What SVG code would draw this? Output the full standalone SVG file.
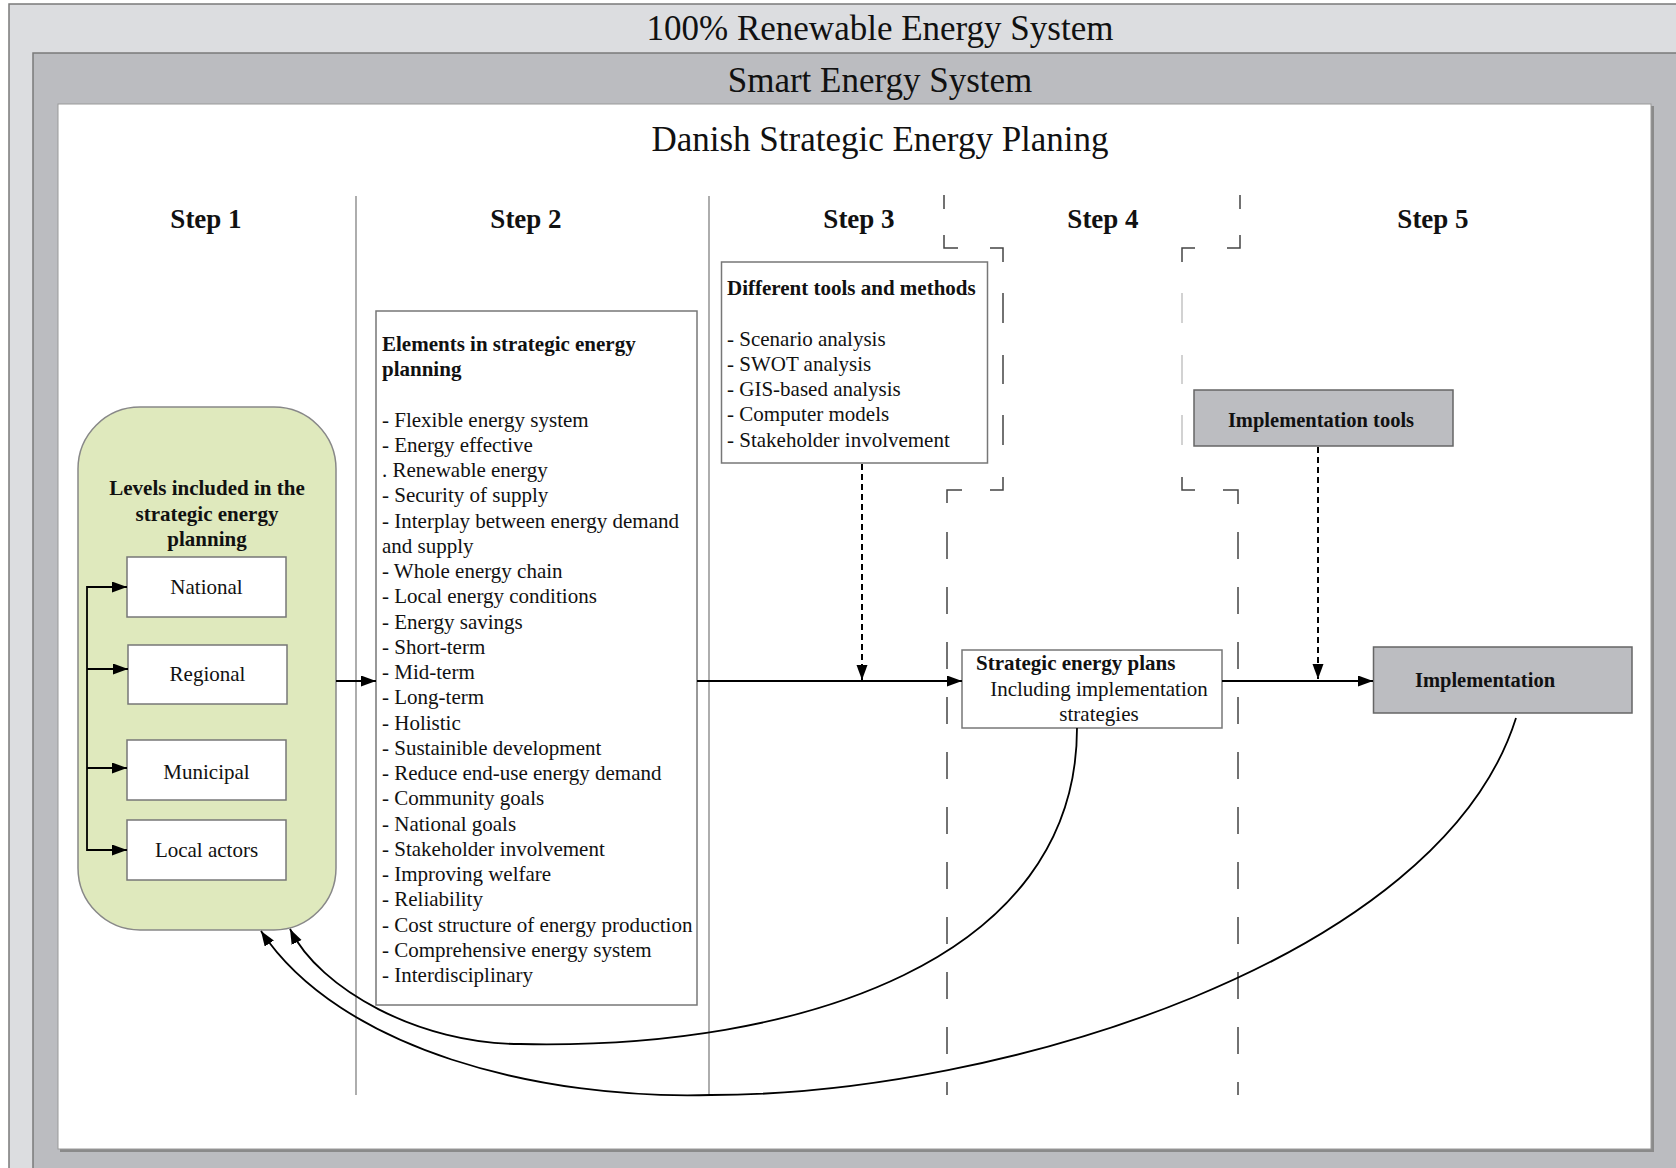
<svg xmlns="http://www.w3.org/2000/svg" width="1676" height="1168" viewBox="0 0 1676 1168">
<style>
text{font-family:"Liberation Serif","Times New Roman",serif;fill:#111}
.title{font-size:35px;text-anchor:middle}
.step{font-size:27px;font-weight:bold;text-anchor:middle}
.t{font-size:21px}
.b{font-size:21px;font-weight:bold}
.bc{font-size:20.5px;font-weight:bold;text-anchor:middle}
.c{text-anchor:middle}
.box{fill:#fff;stroke:#777;stroke-width:1.5}
.gbox{fill:#bcbdc1;stroke:#666;stroke-width:1.5}
.div{stroke:#777;stroke-width:1.2;fill:none}
.dash{stroke:#444;stroke-width:1.5;fill:none}
.dashl{stroke:#c4c4c4;stroke-width:1.5;fill:none}
.con{stroke:#000;stroke-width:1.8;fill:none}
.dcon{stroke:#000;stroke-width:2;fill:none;stroke-dasharray:6 4}
</style>
<defs>
<marker id="arr" markerUnits="userSpaceOnUse" markerWidth="16" markerHeight="12" refX="15" refY="5.5" orient="auto">
<path d="M0,0 L15,5.5 L0,11 z" fill="#000"/>
</marker>
</defs>

<g id="frame-renewable">
<rect x="9" y="4" width="1690" height="1200" fill="#dcdde0" stroke="#7a7a7a" stroke-width="1.5"/>
<text class="title" x="880" y="40">100% Renewable Energy System</text>
</g>
<g id="frame-smart">
<rect x="33" y="53" width="1660" height="1150" fill="#bbbcc0" stroke="#7a7a7a" stroke-width="1.5"/>
<text class="title" x="880" y="92">Smart Energy System</text>
</g>
<g id="frame-danish">
<rect x="60" y="106" width="1594" height="1046" fill="#8a8a8a"/>
<rect x="58" y="104" width="1593" height="1045" fill="#fff" stroke="#999" stroke-width="1"/>
<text class="title" x="880" y="151">Danish Strategic Energy Planing</text>
</g>

<g id="step-columns">
<line class="div" x1="356" y1="196" x2="356" y2="1095"/>
<line class="div" x1="709" y1="196" x2="709" y2="1095"/>
<path class="dash" d="M944,195 V209 M944,235 V248 H958 M990,248 H1003 V262 M1003,293 V323 M1003,355 V384 M1003,415 V445 M1003,477 V490 H990 M962,490 H947 V503 M947,532 V559 M947,587 V614 M947,642 V669 M947,697 V724 M947,752 V779 M947,807 V834 M947,862 V889 M947,917 V944 M947,972 V999 M947,1027 V1054 M947,1082 V1095"/>
<path class="dash" d="M1240,195 V209 M1240,235 V248 H1227 M1195,248 H1182 V262 M1182,477 V490 H1195 M1223,490 H1238 V504 M1238,532 V559 M1238,587 V614 M1238,642 V669 M1238,697 V724 M1238,752 V779 M1238,807 V834 M1238,862 V889 M1238,917 V944 M1238,972 V999 M1238,1027 V1054 M1238,1082 V1095"/>
<path class="dashl" d="M1182,293 V323 M1182,355 V384 M1182,415 V445"/>
<text class="step" x="206" y="228">Step 1</text>
<text class="step" x="526" y="228">Step 2</text>
<text class="step" x="859" y="228">Step 3</text>
<text class="step" x="1103" y="228">Step 4</text>
<text class="step" x="1433" y="228">Step 5</text>
</g>

<g id="levels">
<rect x="78" y="407" width="258" height="523" rx="62" ry="62" fill="#dfe9bd" stroke="#888" stroke-width="1.5"/>
<text class="b c" x="207" y="495">Levels included in the</text>
<text class="b c" x="207" y="520.5">strategic energy</text>
<text class="b c" x="207" y="546">planning</text>
</g>
<g id="national">
<rect class="box" x="127" y="557" width="159" height="60"/>
<text class="t c" x="206.5" y="594">National</text>
</g>
<g id="regional">
<rect class="box" x="128" y="645" width="159" height="59"/>
<text class="t c" x="207.5" y="681">Regional</text>
</g>
<g id="municipal">
<rect class="box" x="127" y="740" width="159" height="60"/>
<text class="t c" x="206.5" y="779">Municipal</text>
</g>
<g id="local-actors">
<rect class="box" x="127" y="820" width="159" height="60"/>
<text class="t c" x="206.5" y="857">Local actors</text>
</g>

<g id="elements">
<rect class="box" x="376" y="311" width="321" height="694"/>
<text class="b" x="382" y="351">Elements in strategic energy</text>
<text class="b" x="382" y="376">planning</text>
<text class="t" x="382" y="426.5">- Flexible energy system<tspan x="382" dy="25.25">- Energy effective</tspan><tspan x="382" dy="25.25">. Renewable energy</tspan><tspan x="382" dy="25.25">- Security of supply</tspan><tspan x="382" dy="25.25">- Interplay between energy demand</tspan><tspan x="382" dy="25.25">and supply</tspan><tspan x="382" dy="25.25">- Whole energy chain</tspan><tspan x="382" dy="25.25">- Local energy conditions</tspan><tspan x="382" dy="25.25">- Energy savings</tspan><tspan x="382" dy="25.25">- Short-term</tspan><tspan x="382" dy="25.25">- Mid-term</tspan><tspan x="382" dy="25.25">- Long-term</tspan><tspan x="382" dy="25.25">- Holistic</tspan><tspan x="382" dy="25.25">- Sustainible development</tspan><tspan x="382" dy="25.25">- Reduce end-use energy demand</tspan><tspan x="382" dy="25.25">- Community goals</tspan><tspan x="382" dy="25.25">- National goals</tspan><tspan x="382" dy="25.25">- Stakeholder involvement</tspan><tspan x="382" dy="25.25">- Improving welfare</tspan><tspan x="382" dy="25.25">- Reliability</tspan><tspan x="382" dy="25.25">- Cost structure of energy production</tspan><tspan x="382" dy="25.25">- Comprehensive energy system</tspan><tspan x="382" dy="25.25">- Interdisciplinary</tspan></text>
</g>

<g id="tools">
<rect class="box" x="721.5" y="262" width="266" height="201"/>
<text class="b" x="727" y="295">Different tools and methods</text>
<text class="t" x="727" y="345.5">- Scenario analysis<tspan x="727" dy="25.25">- SWOT analysis</tspan><tspan x="727" dy="25.25">- GIS-based analysis</tspan><tspan x="727" dy="25.25">- Computer models</tspan><tspan x="727" dy="25.25">- Stakeholder involvement</tspan></text>
</g>

<g id="strategic-plans">
<rect class="box" x="962" y="650" width="260" height="78"/>
<text class="b" x="976" y="670">Strategic energy plans</text>
<text class="t c" x="1099" y="696">Including implementation</text>
<text class="t c" x="1099" y="721">strategies</text>
</g>

<g id="implementation-tools">
<rect class="gbox" x="1194" y="390" width="259" height="56"/>
<text class="bc" x="1321" y="427">Implementation tools</text>
</g>

<g id="implementation">
<rect class="gbox" x="1373.5" y="647" width="258.5" height="66"/>
<text class="bc" x="1485" y="687">Implementation</text>
</g>

<g id="connectors">
<line class="con" x1="87" y1="586" x2="87" y2="851"/>
<line class="con" x1="87" y1="587" x2="127" y2="587" marker-end="url(#arr)"/>
<line class="con" x1="87" y1="669" x2="128" y2="669" marker-end="url(#arr)"/>
<line class="con" x1="87" y1="768" x2="127" y2="768" marker-end="url(#arr)"/>
<line class="con" x1="87" y1="850" x2="127" y2="850" marker-end="url(#arr)"/>
<line class="con" x1="336" y1="681" x2="376" y2="681" marker-end="url(#arr)"/>
<line class="con" x1="697" y1="681" x2="962" y2="681" marker-end="url(#arr)"/>
<line class="con" x1="1222" y1="681" x2="1373" y2="681" marker-end="url(#arr)"/>
<line class="dcon" x1="862" y1="464" x2="862" y2="680" marker-end="url(#arr)"/>
<line class="dcon" x1="1318" y1="447" x2="1318" y2="679" marker-end="url(#arr)"/>
<path class="con" d="M1077,728 C1077,960 800,1050 520,1044 C420,1044 320,990 290,929" marker-end="url(#arr)"/>
<path class="con" d="M1516,718 C1440,960 1000,1095 711,1095 C540,1100 340,1050 261,931" marker-end="url(#arr)"/>
</g>
</svg>
